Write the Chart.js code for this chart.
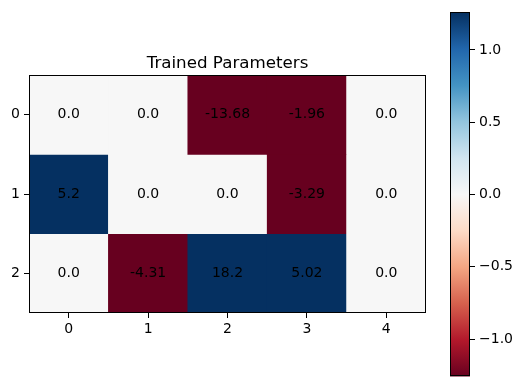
<!DOCTYPE html>
<html>
<head>
<meta charset="utf-8">
<script src="https://cdn.jsdelivr.net/npm/chart.js@4"></script>
<style>
  body { margin: 0; background: #fff; }
  #wrap { position: relative; width: 522px; height: 389px; }
  canvas { position: absolute; left: 0; top: 0; }
</style>
</head>
<body>
<div id="wrap">
  <canvas id="heat" width="522" height="389"></canvas>
  <canvas id="cbar" width="522" height="389"></canvas>
</div>
<script>
// data
var colLabels = ['0', '1', '2', '3', '4'];
var rowLabels = [0, 1, 2];
var row0 = [0.0, 0.0, -13.68, -1.96, 0.0];
var row1 = [5.2, 0.0, 0.0, -3.29, 0.0];
var row2 = [0.0, -4.31, 18.2, 5.02, 0.0];
var cellText = [
  ['0.0', '0.0', '-13.68', '-1.96', '0.0'],
  ['5.2', '0.0', '0.0', '-3.29', '0.0'],
  ['0.0', '-4.31', '18.2', '5.02', '0.0']
];
var rows = [row0, row1, row2];
var vmin = -1.26, vmax = 1.26;
var cbarTicks = [-1.0, -0.5, 0.0, 0.5, 1.0];

// RdBu colormap
var rdbu = ['#67001f', '#b2182b', '#d6604d', '#f4a582', '#fddbc7', '#f7f7f7',
            '#d1e5f0', '#92c5de', '#4393c3', '#2166ac', '#053061'];

function hexToRgb(h) {
  return [parseInt(h.substr(1, 2), 16), parseInt(h.substr(3, 2), 16), parseInt(h.substr(5, 2), 16)];
}
function cmap(v) {
  var t = (v - vmin) / (vmax - vmin);
  t = Math.max(0, Math.min(1, t));
  var p = t * (rdbu.length - 1);
  var i = Math.min(Math.floor(p), rdbu.length - 2);
  var f = p - i;
  var a = hexToRgb(rdbu[i]), b = hexToRgb(rdbu[i + 1]);
  var c = a.map(function (x, k) { return Math.round(x + (b[k] - x) * f); });
  return 'rgb(' + c[0] + ',' + c[1] + ',' + c[2] + ')';
}

Chart.defaults.font.family = 'DejaVu Sans';
Chart.defaults.font.size = 14;
Chart.defaults.color = '#000';

var boxPlugin = {
  id: 'box',
  afterDraw: function (chart) {
    var a = chart.chartArea, ctx = chart.ctx;
    ctx.save();
    ctx.strokeStyle = '#000';
    ctx.lineWidth = 1;
    ctx.strokeRect(Math.round(a.left) + 0.5, Math.round(a.top) + 0.5,
                   Math.round(a.right - a.left) - 1, Math.round(a.bottom - a.top) - 1);
    ctx.restore();
  }
};

// text in the cells and the title
var labelPlugin = {
  id: 'cellLabels',
  afterDatasetsDraw: function (chart) {
    var ctx = chart.ctx, xs = chart.scales.x, ys = chart.scales.y;
    ctx.save();
    ctx.fillStyle = '#000';
    ctx.font = '14px "DejaVu Sans"';
    ctx.textAlign = 'center';
    ctx.textBaseline = 'middle';
    rowLabels.forEach(function (r) {
      colLabels.forEach(function (c, ci) {
        ctx.fillText(cellText[r][ci], xs.getPixelForValue(ci), ys.getPixelForValue(r));
      });
    });
    ctx.font = '16.7px "DejaVu Sans"';
    ctx.textBaseline = 'alphabetic';
    var a = chart.chartArea;
    ctx.fillText('Trained Parameters', (a.left + a.right) / 2, a.top - 7);
    ctx.restore();
  }
};

var tickGrid = {
  drawOnChartArea: false,
  drawTicks: true,
  tickLength: 5,
  tickWidth: 1,
  tickColor: '#000',
  offset: false
};

const heat = new Chart(document.getElementById('heat'), {
  type: 'bar',
  data: {
    labels: colLabels,
    datasets: rows.map(function (vals, r) {
      return {
        data: vals.map(function () { return [r - 0.5, r + 0.5]; }),
        backgroundColor: vals.map(cmap),
        borderWidth: 0,
        grouped: false,
        barPercentage: 1,
        categoryPercentage: 1
      };
    })
  },
  options: {
    responsive: false,
    animation: false,
    layout: { padding: { left: 0, top: 75, right: 96, bottom: 0 } },
    plugins: { legend: { display: false }, tooltip: { enabled: false } },
    scales: {
      x: {
        type: 'category',
        grid: tickGrid,
        border: { display: false },
        ticks: { padding: 3 },
        afterFit: function (s) { s.height = 76; }
      },
      y: {
        type: 'linear',
        reverse: true,
        min: -0.5,
        max: 2.5,
        grid: tickGrid,
        border: { display: false },
        ticks: { padding: 4 },
        afterBuildTicks: function (s) {
          s.ticks = rowLabels.map(function (v) { return { value: v }; });
        },
        afterFit: function (s) { s.width = 29; }
      }
    }
  },
  plugins: [labelPlugin, boxPlugin]
});

// colorbar
const cbar = new Chart(document.getElementById('cbar'), {
  type: 'bar',
  data: {
    labels: [''],
    datasets: [{
      data: [[vmin, vmax]],
      backgroundColor: function (c) {
        var a = c.chart.chartArea;
        if (!a) return '#fff';
        var g = c.chart.ctx.createLinearGradient(0, a.bottom, 0, a.top);
        rdbu.forEach(function (col, i) { g.addColorStop(i / (rdbu.length - 1), col); });
        return g;
      },
      borderWidth: 0,
      barPercentage: 1,
      categoryPercentage: 1
    }]
  },
  options: {
    responsive: false,
    animation: false,
    layout: { padding: { left: 450, top: 10, right: 0, bottom: 10 } },
    plugins: { legend: { display: false }, tooltip: { enabled: false } },
    scales: {
      x: { display: false },
      y: {
        type: 'linear',
        position: 'right',
        min: vmin,
        max: vmax,
        grid: tickGrid,
        border: { display: false },
        ticks: {
          padding: 4,
          callback: function (v) { return v.toFixed(1).replace('-', '\u2212'); }
        },
        afterBuildTicks: function (s) {
          s.ticks = cbarTicks.map(function (v) { return { value: v }; });
        },
        afterFit: function (s) { s.width = 52; }
      }
    }
  },
  plugins: [boxPlugin]
});
</script>
</body>
</html>
